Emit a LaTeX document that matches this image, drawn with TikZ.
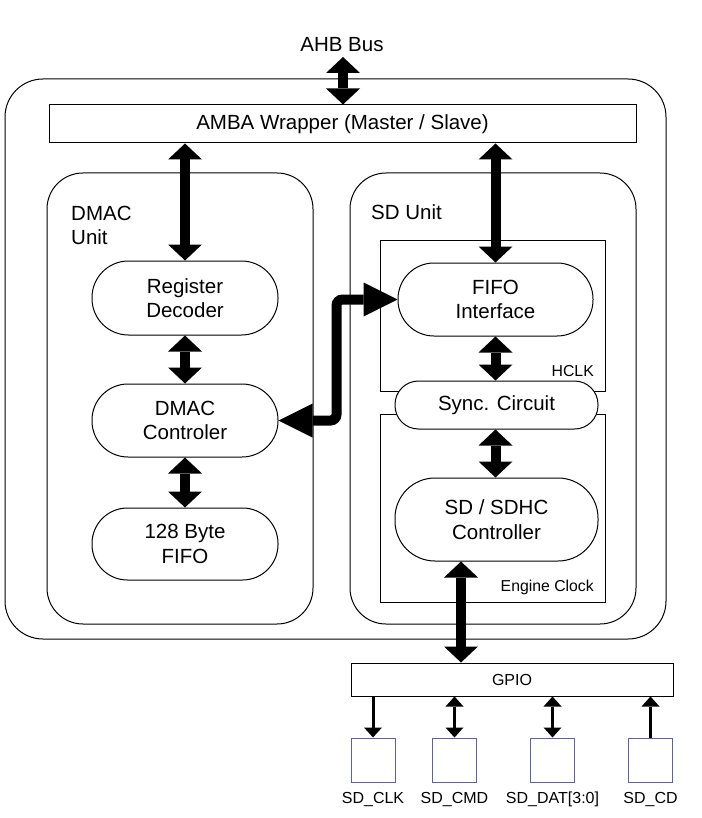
\documentclass[tikz,border=0pt]{standalone}
\usepackage{fontspec}
\setmainfont{Liberation Sans}
\usetikzlibrary{arrows.meta}
\begin{document}
\begin{tikzpicture}[x=1pt,y=-1pt,
  frame/.style={draw, line width=1pt, inner sep=0pt},
  pill/.style={frame, fill=white, align=center, font=\fontsize{20.5}{24.5}\selectfont},
  maintext/.style={inner sep=0pt, font=\fontsize{20.5}{24.5}\selectfont},
  smalltext/.style={inner sep=0pt, font=\fontsize{15.8}{18}\selectfont},
  pinbox/.style={draw={rgb,255:red,96;green,96;blue,160}, line width=1pt, minimum width=44pt, minimum height=44pt, inner sep=0pt},
  bigarrow/.style={line width=10pt, arrows={Triangle[width=34pt,length=16pt,line width=0pt]-Triangle[width=34pt,length=16pt,line width=0pt]}},
  wideheads/.style={line width=10pt, rounded corners=6pt, arrows={Triangle[width=34pt,length=34pt,line width=0pt]-Triangle[width=34pt,length=34pt,line width=0pt]}},
  thinarrow/.style={line width=3pt},
  thintip/.style={arrows={-Triangle[width=18pt,length=10pt,line width=0pt]}},
  thinboth/.style={arrows={Triangle[width=18pt,length=10pt,line width=0pt]-Triangle[width=18pt,length=10pt,line width=0pt]}}
]
\useasboundingbox (0,0) rectangle (701,818);

% outer frame and blocks
\node[frame, rounded corners=38pt, minimum width=661pt, minimum height=560pt] (outer) at (335.5,359) {};
\node[frame, fill=white, minimum width=587pt, minimum height=38pt, maintext] (amba) at (342.5,124) {AMBA Wrapper (Master / Slave)};
\node[maintext, anchor=base] (ahb) at (342,52) {AHB Bus};
\coordinate (ahbtop) at (343,57);

\node[frame, rounded corners=36pt, minimum width=266pt, minimum height=451pt] (dmacunit) at (180,398.5) {};
\node[frame, rounded corners=36pt, minimum width=286pt, minimum height=451pt] (sdunit) at (493,398.5) {};
\node[maintext, anchor=north west, align=left] (dmaclbl) at (71,205.5) {DMAC\\Unit};
\node[maintext, anchor=base west] (sdlbl) at (371,220) {SD Unit};

% DMAC column
\node[pill, rounded corners=36.5pt, minimum width=186pt, minimum height=74pt] (rd) at (185,298) {Register\\Decoder};
\node[pill, rounded corners=36pt, minimum width=186pt, minimum height=73pt] (dc) at (185,420.5) {DMAC\\Controler};
\node[pill, rounded corners=35.5pt, minimum width=186pt, minimum height=72pt] (bf) at (185,544) {128 Byte\\FIFO};

% SD column
\node[frame, minimum width=225pt, minimum height=151pt] (hclk) at (492.5,315.5) {};
\node[frame, minimum width=225pt, minimum height=188pt] (eng) at (492.5,508) {};
\node[smalltext, anchor=base east] (hclklbl) at (594,376) {HCLK};
\node[smalltext, anchor=base east] (englbl) at (594,591) {Engine Clock};
\node[pill, rounded corners=36pt, minimum width=195pt, minimum height=73pt] (fifoif) at (495.5,299.5) {FIFO\\Interface};
\node[pill, rounded corners=23.5pt, minimum width=203pt, minimum height=48pt] (sync) at (496.5,405) {Sync. Circuit};
\node[pill, rounded corners=40pt, minimum width=203pt, minimum height=83pt] (sdc) at (496.5,519.5) {SD / SDHC\\Controller};

% GPIO and pins
\node[frame, minimum width=322pt, minimum height=33pt, font=\fontsize{16}{18}\selectfont] (gpio) at (512,679.5) {GPIO};
\node[pinbox] (clk) at (373,760) {};
\node[pinbox] (cmd) at (454.5,760) {};
\node[pinbox] (dat) at (552.5,760) {};
\node[pinbox] (cd) at (650.5,760) {};
\node[smalltext, font=\fontsize{16}{18}\selectfont, anchor=base] (lclk) at (373,803) {SD\_CLK};
\node[smalltext, font=\fontsize{16}{18}\selectfont, anchor=base] (lcmd) at (454.5,803) {SD\_CMD};
\node[smalltext, font=\fontsize{16}{18}\selectfont, anchor=base] (ldat) at (552.5,803) {SD\_DAT[3:0]};
\node[smalltext, font=\fontsize{16}{18}\selectfont, anchor=base] (lcd) at (650.5,803) {SD\_CD};

% big connectors
\draw[bigarrow] (ahbtop) -- (amba.north -| ahbtop);
\draw[bigarrow] (amba.south -| rd.north) -- (rd.north);
\draw[bigarrow] (amba.south -| fifoif.north) -- (fifoif.north);
\draw[bigarrow] (rd.south) -- (dc.north);
\draw[bigarrow] (dc.south) -- (bf.north);
\draw[bigarrow] (fifoif.south) -- (sync.north -| fifoif.south);
\draw[bigarrow] (sync.south -| fifoif.south) -- (sdc.north -| fifoif.south);
\coordinate (gx) at (461,0);
\draw[bigarrow] (sdc.south -| gx) -- (gpio.north -| gx);
\draw[wideheads] (dc.east) -- ++(58,0) |- (fifoif.west);

% thin connectors
\draw[thinarrow, thintip] (gpio.south -| clk.north) -- (clk.north);
\draw[thinarrow, thinboth] (gpio.south -| cmd.north) -- (cmd.north);
\draw[thinarrow, thinboth] (gpio.south -| dat.north) -- (dat.north);
\draw[thinarrow, thintip] (cd.north) -- (gpio.south -| cd.north);
\end{tikzpicture}
\end{document}
